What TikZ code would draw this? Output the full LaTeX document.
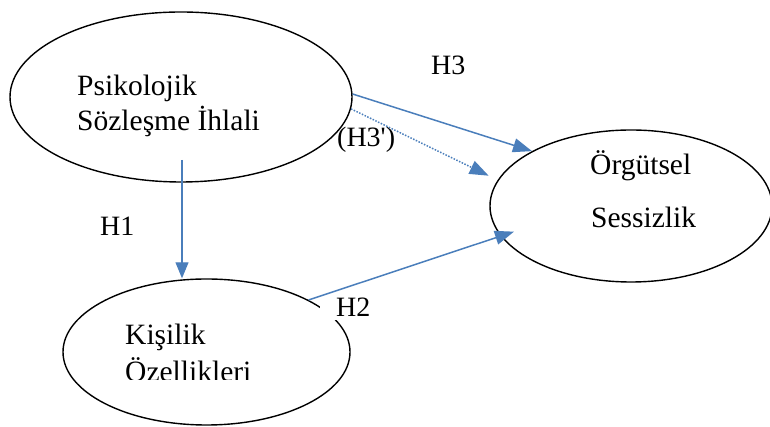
\documentclass[tikz,border=0pt]{standalone}
\usepackage{fontspec}
\setmainfont{Liberation Serif}
\usetikzlibrary{arrows.meta,shapes.geometric}
\definecolor{arrowblue}{RGB}{74,126,187}
\begin{document}
\begin{tikzpicture}[x=1pt,y=1pt,
  oval/.style={ellipse, draw=black, line width=1.4pt, inner sep=0pt},
  txt/.style={anchor=base west, inner sep=0pt, font=\fontsize{29.5}{35}\selectfont},
  lbl/.style={anchor=base west, inner sep=0pt, font=\fontsize{28}{33}\selectfont},
  link/.style={draw=arrowblue, line width=1.5pt, -{Triangle[length=19pt,width=14pt]}},
]
\useasboundingbox (0,0) rectangle (770,427);
\node[oval, minimum width=342pt, minimum height=170pt] (A) at (181,330) {};
\node[oval, minimum width=287pt, minimum height=146pt] (B) at (206.5,75) {};
\node[oval, minimum width=282pt, minimum height=152pt] (C) at (631,221) {};

\node[txt] (a1) at (77,331) {Psikolojik};
\node[txt] (a2) at (77,296) {Sözleşme İhlali};
\node[txt] (b1) at (125,82) {Kişilik};
\begin{scope}
  \clip (0,47.2) rectangle (770,427);
  \node[txt] (b2) at (125,45) {Özellikleri};
\end{scope}
\node[txt] (c1) at (590,252) {Örgütsel};
\node[txt] (c2) at (591,199) {Sessizlik};

\node[lbl] (h3) at (431,352) {H3};
\node[lbl] (h1) at (100,191) {H1};
\node[lbl] (h3p) at (337,280) {(H3\textquotesingle)};
\node[lbl, fill=white, inner xsep=16pt, inner ysep=3pt] (h2) at (320,110) {H2};

\coordinate (h1s) at (182,267);
\draw[link, line width=1.1pt, -{Triangle[length=16pt,width=13pt]}] (h1s) -- (h1s |- B.north);
\draw[link] (A.1) -- (C.151);
\draw[link, dash pattern=on 1.5pt off 1.5pt, shorten >=10pt] (A.-4) -- (C.169);
\draw[link, shorten >=-14pt] (B.27) -- (C.193);
\end{tikzpicture}
\end{document}
